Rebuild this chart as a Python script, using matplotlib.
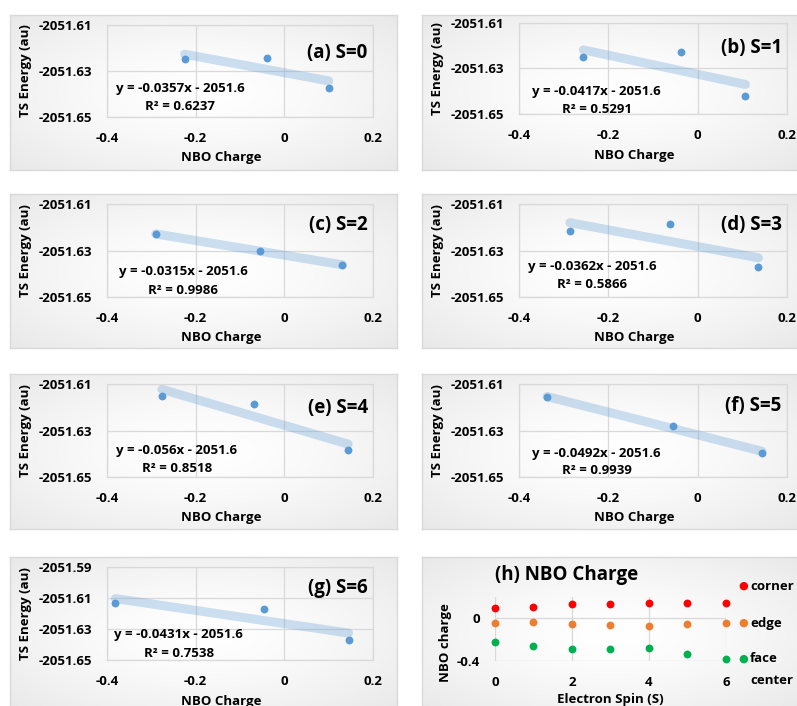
import numpy as np
import matplotlib
matplotlib.use('Agg')
import matplotlib.pyplot as plt

# ---------------- data ----------------
spins = [0, 1, 2, 3, 4, 5, 6]
charge_corner = [0.100, 0.107, 0.131, 0.136, 0.144, 0.144, 0.145]
charge_edge = [-0.040, -0.037, -0.055, -0.061, -0.068, -0.055, -0.045]
charge_face = [-0.225, -0.256, -0.290, -0.286, -0.276, -0.337, -0.381]

# TS energies (au) ordered as face center, edge, corner
energy_S0 = [-2051.6249, -2051.6242, -2051.6372]
energy_S1 = [-2051.6251, -2051.6227, -2051.6420]
energy_S2 = [-2051.6230, -2051.6300, -2051.6363]
energy_S3 = [-2051.6215, -2051.6187, -2051.6371]
energy_S4 = [-2051.6151, -2051.6184, -2051.6386]
energy_S5 = [-2051.6158, -2051.6282, -2051.6395]
energy_S6 = [-2051.6130, -2051.6173, -2051.6373]
energies = [energy_S0, energy_S1, energy_S2, energy_S3, energy_S4, energy_S5, energy_S6]

panel_titles = ['(a) S=0', '(b) S=1', '(c) S=2', '(d) S=3', '(e) S=4', '(f) S=5', '(g) S=6']
equations = ['y = -0.0357x - 2051.6', 'y = -0.0417x - 2051.6', 'y = -0.0315x - 2051.6',
             'y = -0.0362x - 2051.6', 'y = -0.056x - 2051.6', 'y = -0.0492x - 2051.6',
             'y = -0.0431x - 2051.6']
r_squared = ['R² = 0.6237', 'R² = 0.5291', 'R² = 0.9986', 'R² = 0.5866',
             'R² = 0.8518', 'R² = 0.9939', 'R² = 0.7538']
x_ticks = [-0.4, -0.2, 0, 0.2]
y_ticks_std = [-2051.65, -2051.63, -2051.61]
y_ticks_g = [-2051.65, -2051.63, -2051.61, -2051.59]

# ---------------- layout ----------------
W, H = 797, 706
plt.rcParams['font.family'] = ['Open Sans', 'DejaVu Sans']
plt.rcParams['font.weight'] = 'bold'
fig = plt.figure(figsize=(W / 100, H / 100), dpi=100)
fig.patch.set_facecolor('white')

GRID = '#D9D9D9'
BLUE = '#5B9BD5'
TXT = '#000000'
FS = 9.5


def box(l, t, r, b):
    return [l / W, 1 - b / H, (r - l) / W, (b - t) / H]


def ft(x, y, s, **kw):
    return fig.text(x / W, 1 - y / H, s, **kw)


def frame(l, t, r, b):
    ax = fig.add_axes(box(l, t, r, b), zorder=0)
    yy, xx = np.mgrid[0:1:120j, 0:1:240j]
    rr = np.sqrt((xx - 0.5) ** 2 + (yy - 0.5) ** 2) / np.sqrt(0.5)
    val = 1 - 0.09 * rr ** 1.5
    img = np.dstack([val, val, val])
    ax.imshow(img, extent=[0, 1, 0, 1], aspect='auto', interpolation='bilinear')
    ax.set_xlim(0, 1)
    ax.set_ylim(0, 1)
    ax.set_xticks([])
    ax.set_yticks([])
    for s in ax.spines.values():
        s.set_color(GRID)
        s.set_linewidth(1.0)


frames = [(10, 15, 397, 170), (422, 15, 802, 170),
          (10, 194, 397, 348), (422, 194, 802, 348),
          (10, 374, 397, 529), (422, 374, 802, 529),
          (10, 557, 397, 712), (422, 557, 802, 712)]
for fr in frames:
    frame(*fr)

plots = [(107, 25, 373, 117), (519, 23, 787, 114),
         (107, 204, 373, 297), (519, 204, 787, 297),
         (107, 384, 373, 477), (519, 384, 787, 477),
         (107, 567, 373, 660)]
eq_pos = [(0.274, 0.315, 0.109), (0.29, 0.25, 0.044), (0.286, 0.27, 0.075),
          (0.272, 0.326, 0.13), (0.263, 0.29, 0.093), (0.29, 0.255, 0.065),
          (0.27, 0.27, 0.072)]
title_y = [0.70, 0.725, 0.77, 0.77, 0.745, 0.76, 0.77]

for i in range(7):
    l, t, r, b = plots[i]
    ax = fig.add_axes(box(l, t, r, b), zorder=1)
    ax.patch.set_alpha(0)
    xs = np.array([charge_face[i], charge_edge[i], charge_corner[i]])
    ys = np.array(energies[i])
    coef = np.polyfit(xs, ys, 1)
    xf = np.array([xs.min(), xs.max()])
    ax.plot(xf, np.polyval(coef, xf), color=BLUE, alpha=0.3, lw=6.5,
            solid_capstyle='round', zorder=2)
    ax.scatter(xs, ys, s=32, color=BLUE, zorder=3, linewidths=0)
    yt = y_ticks_g if i == 6 else y_ticks_std
    ax.set_xlim(-0.4, 0.2)
    ax.set_ylim(yt[0], yt[-1])
    ax.set_xticks(x_ticks)
    ax.set_xticklabels(['-0.4', '-0.2', '0', '0.2'])
    ax.set_yticks(yt)
    ax.set_yticklabels(['%.2f' % v for v in yt])
    ax.tick_params(length=0, labelsize=FS, pad=11, colors=TXT)
    for lab in ax.get_xticklabels() + ax.get_yticklabels():
        lab.set_fontweight('bold')
    ax.grid(True, color=GRID, lw=0.9, zorder=0)
    ax.set_axisbelow(True)
    for s in ax.spines.values():
        s.set_color(GRID)
        s.set_linewidth(0.9)
    ex, ey, ry = eq_pos[i]
    ax.text(ex, ey, equations[i], transform=ax.transAxes, ha='center', va='center',
            fontsize=FS, fontweight='bold', zorder=4)
    ax.text(ex, ry, r_squared[i], transform=ax.transAxes, ha='center', va='center',
            fontsize=FS, fontweight='bold', zorder=4)
    ax.text(0.98, title_y[i], panel_titles[i], transform=ax.transAxes, ha='right',
            va='center', fontsize=13.5, fontweight='bold', zorder=4)
    ft((l + r) / 2 - 19, b + 41, 'NBO Charge', ha='center', va='center',
       fontsize=FS, fontweight='bold')
    ft(l - 82, (t + b) / 2, 'TS Energy (au)', ha='center', va='center',
       rotation=90, fontsize=FS, fontweight='bold')

# ---------------- panel (h) ----------------
axh = fig.add_axes(box(495, 597, 726, 661), zorder=1)
axh.patch.set_alpha(0)
axh.set_xlim(0, 6)
axh.set_ylim(-0.4, 0.2)
axh.set_xticks([0, 2, 4, 6])
axh.set_yticks([-0.4, 0])
axh.set_yticklabels(['-0.4', '0'])
axh.tick_params(length=0, labelsize=FS, pad=11, colors=TXT)
for lab in axh.get_xticklabels() + axh.get_yticklabels():
    lab.set_fontweight('bold')
axh.grid(True, color=GRID, lw=0.9, zorder=0)
axh.set_axisbelow(True)
for s in axh.spines.values():
    s.set_visible(False)
series = [(charge_corner, '#FF0000', 'corner'),
          (charge_edge, '#ED7D31', 'edge'),
          (charge_face, '#00B050', 'face')]
for vals, col, name in series:
    axh.scatter(spins, vals, s=32, color=col, zorder=3, linewidths=0, clip_on=False)

ft(495, 575, '(h) NBO Charge', ha='left', va='center', fontsize=13.5, fontweight='bold')
ft(445, 643, 'NBO charge', ha='center', va='center', rotation=90, fontsize=FS,
   fontweight='bold')
ft(610, 699, 'Electron Spin (S)', ha='center', va='center', fontsize=FS,
   fontweight='bold')

leg_y = [586, 623, 659]
for (vals, col, name), yy in zip(series, leg_y):
    ft(743, yy, '\u25CF', ha='center', va='center', fontsize=8, color=col,
       family=['DejaVu Sans'])
    ft(750, yy, name, ha='left', va='center', fontsize=9.5, fontweight='bold')
ft(750, 680, 'center', ha='left', va='center', fontsize=9.5, fontweight='bold')

fig.savefig('out.png', dpi=100, facecolor='white')
